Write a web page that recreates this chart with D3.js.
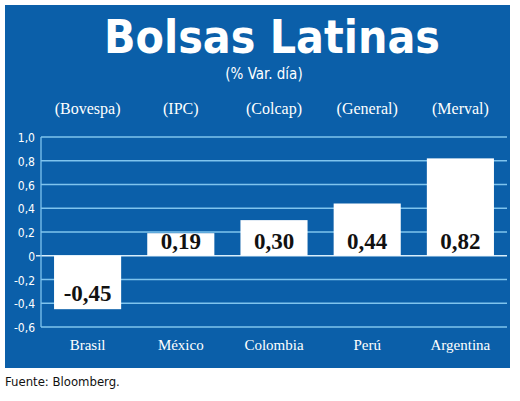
<!DOCTYPE html>
<html><head><meta charset="utf-8">
<script src="https://cdn.jsdelivr.net/npm/d3@7"></script>
<style>body{margin:0;background:#fff}</style>
</head><body><div id="chart"></div>
<script>
const paises = ['Brasil', 'México', 'Colombia', 'Perú', 'Argentina'];
const indices = ['(Bovespa)', '(IPC)', '(Colcap)', '(General)', '(Merval)'];
const valores = [-0.45, 0.19, 0.30, 0.44, 0.82];
const ticks = [1.0, 0.8, 0.6, 0.4, 0.2, 0, -0.2, -0.4, -0.6];

const width = 520, height = 401;
const blue = '#0b5fa9', grid = '#7fc4ee';
const fmt = d => d === 0 ? '0' : d3.format('.1f')(d).replace('.', ',').replace('−', '-');

const svg = d3.select('#chart').append('svg')
  .attr('width', width).attr('height', height);

svg.append('rect').attr('x', 5).attr('y', 5).attr('width', 505).attr('height', 363)
  .attr('fill', blue);

svg.append('text').attr('x', 272).attr('y', 53).attr('text-anchor', 'middle')
  .style('font', 'bold 46px "DejaVu Sans Condensed", sans-serif').style('fill', '#fff')
  .text('Bolsas Latinas');
svg.append('text').attr('x', 264).attr('y', 79).attr('text-anchor', 'middle')
  .style('font', '15px "DejaVu Sans Condensed", sans-serif').style('fill', '#fff')
  .text('(% Var. día)');

const x = d3.scaleBand().domain(paises).range([41, 507]).paddingInner(0.28).paddingOuter(0.14);
const y = d3.scaleLinear().domain([-0.6, 1.0]).range([327, 137]);

const g = svg.append('g');
g.selectAll('.grid').data(ticks).enter().append('line')
  .attr('x1', d => d === 0 ? 36 : 41).attr('x2', 507)
  .attr('y1', d => y(d)).attr('y2', d => y(d))
  .attr('stroke', d => d === 0 ? '#d8eefb' : grid).attr('stroke-width', 1.3);
g.append('line').attr('x1', 41).attr('x2', 41).attr('y1', y(1)).attr('y2', y(-0.6))
  .attr('stroke', grid).attr('stroke-width', 1.3);

g.selectAll('.tick').data(ticks).enter().append('text')
  .attr('x', 35).attr('y', d => y(d) + 5).attr('text-anchor', 'end')
  .style('font', '12px "DejaVu Sans Condensed", sans-serif').style('fill', '#fff')
  .text(fmt);

g.selectAll('.bar').data(valores).enter().append('rect')
  .attr('x', (d, i) => x(paises[i]))
  .attr('width', x.bandwidth())
  .attr('y', d => y(Math.max(0, d)))
  .attr('height', d => Math.abs(y(d) - y(0)))
  .attr('fill', '#fff');

g.selectAll('.val').data(valores).enter().append('text')
  .attr('x', (d, i) => x(paises[i]) + x.bandwidth() / 2)
  .attr('y', d => d < 0 ? y(d) - 8 : y(0) - 7)
  .attr('text-anchor', 'middle')
  .style('font', 'bold 23px "Liberation Serif", serif').style('fill', '#111')
  .text(d => d.toFixed(2).replace('.', ','));

g.selectAll('.idx').data(indices).enter().append('text')
  .attr('x', (d, i) => x(paises[i]) + x.bandwidth() / 2).attr('y', 114)
  .attr('text-anchor', 'middle')
  .style('font', '16px "Liberation Serif", serif').style('fill', '#fff')
  .text(d => d);

g.selectAll('.cat').data(paises).enter().append('text')
  .attr('x', d => x(d) + x.bandwidth() / 2).attr('y', 350)
  .attr('text-anchor', 'middle')
  .style('font', '15px "Liberation Serif", serif').style('fill', '#fff')
  .text(d => d);

svg.append('text').attr('x', 5).attr('y', 386)
  .style('font', '13px "DejaVu Sans Condensed", sans-serif').style('fill', '#111')
  .text('Fuente: Bloomberg.');
</script></body></html>
